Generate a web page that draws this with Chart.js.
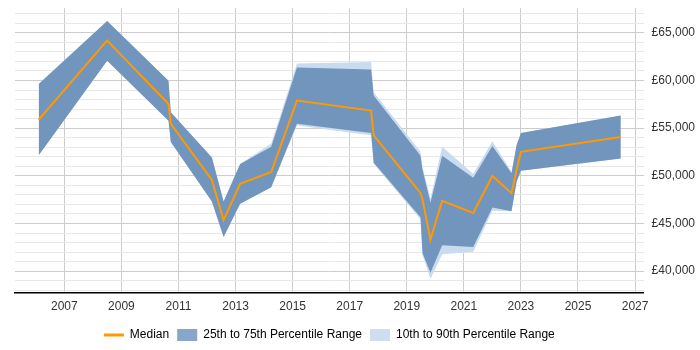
<!DOCTYPE html>
<html>
<head>
<meta charset="utf-8">
<script src="https://cdn.jsdelivr.net/npm/chart.js@4"></script>
<style>
  html, body { margin: 0; padding: 0; background: #fff; }
  #wrap { width: 700px; height: 350px; }
</style>
</head>
<body>
<div id="wrap"><canvas id="salaryChart"></canvas></div>
<script>
const years  = [2006.1, 2008.5, 2010.65, 2010.73, 2012.17, 2012.58, 2013.16, 2014.25, 2015.15, 2017.75, 2017.84, 2019.48, 2019.55, 2019.83, 2020.24, 2021.33, 2022.0, 2022.67, 2022.85, 2023.0, 2026.5];
const median = [55880, 64200, 57540, 55460, 49570, 45340, 49160, 50400, 57890, 56850, 54250, 48200, 47520, 43310, 47390, 46100, 49990, 48180, 50640, 52520, 54080];
const p25    = [52170, 62060, 55790, 53560, 47310, 43570, 47080, 48800, 55460, 54490, 51370, 45650, 41910, 39820, 42710, 42530, 46690, 46280, 49400, 50540, 51820];
const p75    = [59620, 66250, 59980, 56680, 51930, 47310, 51240, 53040, 61360, 61150, 58420, 52100, 50640, 47210, 52100, 49810, 53140, 50260, 53240, 54490, 56330];
const p10    = [52170, 62060, 55790, 53560, 47310, 43570, 47080, 48800, 55290, 54250, 51270, 45440, 41700, 39200, 41770, 42040, 46340, 46280, 49400, 50540, 51820];
const p90    = [59620, 66250, 59980, 56680, 51930, 47310, 51240, 53380, 61780, 61950, 58760, 52520, 50960, 47630, 53040, 50200, 53630, 50440, 53240, 54490, 56330];
const xTicks = [2007, 2009, 2011, 2013, 2015, 2017, 2019, 2021, 2023, 2025, 2027];
const yMajor = [40000, 45000, 50000, 55000, 60000, 65000];

// minor grid every 1000 between 38000 and 67000
const yTicks = [];
for (let v = 38000; v <= 67000; v += 1000) yTicks.push(v);

const pts = arr => arr.map((v, i) => ({ x: years[i], y: v }));

const midBlue = '#7195bd';
const lightBlue = '#c9dbee';
const orange = '#ff9900';

Chart.defaults.font.family = '"Liberation Sans", Arial, sans-serif';
Chart.defaults.font.size = 12;
Chart.defaults.color = '#333';

new Chart(document.getElementById('salaryChart'), {
    type: 'line',
    data: {
        datasets: [
            { label: 'Median', data: pts(median), borderColor: orange, backgroundColor: orange, borderWidth: 2, fill: false },
            { label: '25th to 75th Percentile Range', data: pts(p75), borderWidth: 0, borderColor: midBlue, backgroundColor: midBlue, fill: '+1' },
            { label: 'p25', data: pts(p25), borderWidth: 0, borderColor: midBlue, fill: false },
            { label: '10th to 90th Percentile Range', data: pts(p90), borderWidth: 0, borderColor: lightBlue, backgroundColor: lightBlue, fill: '+1' },
            { label: 'p10', data: pts(p10), borderWidth: 0, borderColor: lightBlue, fill: false }
        ]
    },
    options: {
        responsive: true,
        maintainAspectRatio: false,
        animation: false,
        layout: { padding: { left: 15, right: -3, top: 1, bottom: -1 } },
        elements: { point: { radius: 0 }, line: { tension: 0 } },
        scales: {
            x: {
                type: 'linear',
                min: 2005.27,
                max: 2027.3,
                afterBuildTicks: axis => { axis.ticks = xTicks.map(v => ({ value: v })); },
                ticks: { padding: 7, maxRotation: 0, callback: v => String(v) },
                grid: { color: '#cccccc', drawTicks: false },
                border: { color: '#000', width: 1.5 }
            },
            y: {
                position: 'right',
                min: 37750,
                max: 67600,
                afterBuildTicks: axis => { axis.ticks = yTicks.map(v => ({ value: v })); },
                ticks: {
                    padding: 8,
                    autoSkip: false,
                    // empty minor labels get a tiny font so they add no top padding
                    font: ctx => ctx.tick && yMajor.includes(ctx.tick.value) ? { size: 12 } : { size: 1, lineHeight: 0.1 },
                    callback: v => yMajor.includes(v) ? '£' + v.toLocaleString('en-GB') : ''
                },
                grid: {
                    drawTicks: false,
                    color: ctx => ctx.tick && yMajor.includes(ctx.tick.value) ? '#cccccc' : '#e8e8e8'
                },
                border: { display: false }
            }
        },
        plugins: {
            legend: {
                position: 'bottom',
                fullSize: false,
                labels: {
                    usePointStyle: true,
                    boxWidth: 20,
                    boxHeight: 12,
                    pointStyleWidth: 20,
                    padding: 8,
                    generateLabels: chart => [
                        { text: 'Median', pointStyle: 'line', strokeStyle: orange, fillStyle: orange, lineWidth: 3, datasetIndex: 0 },
                        { text: '25th to 75th Percentile Range', pointStyle: 'rect', fillStyle: '#88a6c8', strokeStyle: '#88a6c8', lineWidth: 0, datasetIndex: 1 },
                        { text: '10th to 90th Percentile Range', pointStyle: 'rect', fillStyle: '#cfdeee', strokeStyle: '#cfdeee', lineWidth: 0, datasetIndex: 3 }
                    ]
                }
            },
            tooltip: { enabled: false }
        }
    }
});
</script>
</body>
</html>
